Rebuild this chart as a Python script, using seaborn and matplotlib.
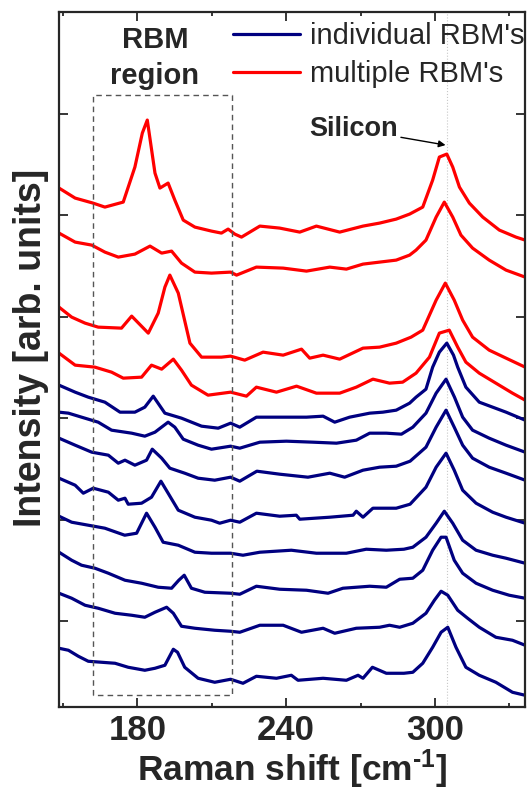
import pandas as pd
import matplotlib.pyplot as plt
import seaborn as sns
import numpy as np

# spectra, top (red) to bottom (blue), arb. units

r1_x = [148.4,154.9,162.1,166.9,174.3,179.0,182.0,184.0,187.1,189.1,192.4,195.1,198.5,203.2,209.9,213.9,216.6,219.3,222.0,229.4,237.4,245.5,252.2,261.6,271.0,277.7,284.4,289.8,295.1,299.1,301.8,304.8,307.2,309.9,313.9,319.3,326.0,332.7,336.4]
r1_y = [5.19,5.09,5.04,5.00,5.05,5.40,5.74,5.87,5.34,5.19,5.24,5.07,4.87,4.80,4.76,4.74,4.78,4.73,4.70,4.81,4.79,4.75,4.81,4.75,4.81,4.84,4.88,4.93,5.00,5.27,5.50,5.53,5.40,5.20,5.04,4.90,4.77,4.70,4.67]

r2_x = [148.4,154.9,161.6,166.9,172.3,179.0,185.1,189.8,193.8,197.8,203.2,209.9,217.6,220.0,228.0,238.8,248.2,257.6,264.3,271.0,277.7,284.4,289.8,292.4,296.4,300.5,303.8,307.2,310.5,315.2,321.9,328.7,336.4]
r2_y = [4.74,4.65,4.62,4.55,4.50,4.53,4.61,4.54,4.56,4.44,4.35,4.34,4.35,4.32,4.40,4.39,4.36,4.40,4.38,4.43,4.45,4.47,4.52,4.57,4.67,4.90,5.05,4.90,4.72,4.59,4.47,4.37,4.30]

r3_x = [148.4,153.5,158.9,164.2,173.6,177.7,184.4,188.4,191.1,193.1,196.5,201.2,205.9,213.9,217.6,223.3,230.7,238.8,246.2,249.5,254.9,261.6,271.0,277.7,284.4,290.4,295.1,300.5,304.2,307.8,311.2,315.2,321.9,328.7,336.4]
r3_y = [4.00,3.90,3.84,3.80,3.79,3.91,3.74,3.94,4.20,4.32,4.14,3.64,3.50,3.50,3.51,3.47,3.55,3.52,3.58,3.49,3.52,3.48,3.59,3.60,3.64,3.70,3.77,4.07,4.24,4.07,3.87,3.70,3.57,3.49,3.40]

r4_x = [148.4,154.9,162.9,169.6,174.3,181.7,185.7,189.8,194.5,197.8,201.8,208.5,217.6,224.0,228.0,236.1,244.2,252.2,261.6,268.3,275.0,281.7,287.0,292.4,297.8,301.8,305.8,309.2,312.5,317.9,324.6,331.3,336.4]
r4_y = [3.54,3.42,3.40,3.35,3.29,3.30,3.42,3.38,3.48,3.37,3.22,3.12,3.15,3.11,3.20,3.15,3.21,3.14,3.14,3.20,3.28,3.24,3.25,3.34,3.50,3.74,3.77,3.60,3.45,3.34,3.24,3.14,3.07]

b1_x = [148.4,154.9,160.2,166.9,173.0,179.0,183.0,186.4,191.1,197.8,205.9,212.6,217.6,221.3,228.0,238.8,248.2,254.9,259.6,265.6,273.7,279.0,284.4,289.8,292.4,296.4,299.1,301.8,304.8,307.5,309.2,312.5,317.9,323.3,328.7,336.4]
b1_y = [3.22,3.15,3.10,3.05,2.95,2.95,3.00,3.11,2.94,2.89,2.81,2.79,2.84,2.80,2.90,2.90,2.90,2.91,2.85,2.90,2.94,2.95,2.97,3.04,3.10,3.18,3.40,3.55,3.64,3.52,3.40,3.20,3.05,3.00,2.95,2.87]

b2_x = [148.4,152.2,157.5,164.2,169.6,177.7,183.0,187.1,192.4,195.1,198.5,204.5,209.9,217.6,221.3,229.4,240.1,250.9,260.3,268.3,273.7,280.4,286.5,291.1,296.4,300.5,304.5,307.9,311.2,315.2,321.9,328.7,336.4]
b2_y = [2.95,2.94,2.90,2.85,2.77,2.74,2.71,2.75,2.85,2.80,2.68,2.62,2.58,2.61,2.59,2.65,2.66,2.65,2.64,2.67,2.74,2.74,2.73,2.80,2.94,3.14,3.28,3.10,2.90,2.77,2.69,2.62,2.55]

b3_x = [148.4,154.9,161.6,168.3,172.3,175.0,179.0,183.7,186.0,189.8,193.1,199.1,204.5,211.2,217.6,221.3,228.2,237.4,248.8,257.6,263.6,271.0,277.7,284.4,290.0,296.4,300.5,304.5,307.8,311.2,315.2,321.9,328.7,336.4]
b3_y = [2.69,2.62,2.55,2.52,2.44,2.47,2.42,2.47,2.58,2.49,2.39,2.34,2.29,2.27,2.30,2.26,2.36,2.33,2.30,2.34,2.30,2.37,2.40,2.41,2.46,2.60,2.80,2.97,2.80,2.62,2.49,2.40,2.34,2.27]

b4_x = [148.4,154.9,158.2,162.2,168.3,172.3,175.0,176.3,181.7,185.7,189.5,192.4,196.5,203.2,209.9,213.2,217.6,221.3,228.0,237.4,244.1,245.5,257.6,267.0,268.3,271.0,275.0,284.4,290.0,296.4,300.5,304.5,307.8,311.2,316.6,323.3,328.7,336.4]
b4_y = [2.29,2.22,2.14,2.19,2.15,2.07,2.09,2.03,2.04,2.10,2.26,2.14,1.97,1.90,1.87,1.84,1.87,1.85,1.94,1.91,1.92,1.88,1.90,1.92,1.96,1.90,1.99,1.99,2.03,2.20,2.40,2.54,2.37,2.17,2.04,1.95,1.90,1.84]

b5_x = [148.4,153.5,160.2,166.9,174.9,179.7,183.7,187.1,190.4,196.5,203.2,209.9,217.6,222.6,229.4,242.1,252.2,264.3,272.3,280.4,287.5,291.1,296.4,300.5,303.8,307.2,311.2,316.6,323.3,328.7,336.4]
b5_y = [1.91,1.85,1.82,1.79,1.72,1.74,1.94,1.80,1.65,1.62,1.55,1.54,1.54,1.52,1.55,1.57,1.54,1.54,1.58,1.57,1.58,1.60,1.70,1.84,1.96,1.84,1.67,1.57,1.52,1.49,1.44]

b6_x = [148.4,153.5,157.5,162.9,168.3,175.0,181.7,188.4,193.8,196.7,198.9,201.8,207.2,217.6,221.3,228.0,237.4,248.2,256.9,262.9,273.7,280.4,285.8,291.1,295.1,299.1,302.5,304.5,307.8,311.2,316.6,323.3,330.0,336.4]
b6_y = [1.55,1.47,1.42,1.39,1.34,1.27,1.24,1.20,1.19,1.27,1.32,1.19,1.15,1.14,1.13,1.21,1.18,1.17,1.14,1.19,1.21,1.20,1.28,1.29,1.37,1.57,1.70,1.70,1.47,1.34,1.24,1.17,1.12,1.09]

b7_x = [148.4,153.5,158.9,164.2,171.0,177.7,183.0,187.1,191.8,194.5,197.8,203.2,211.2,217.6,221.3,229.4,238.8,246.2,254.9,259.6,268.3,277.7,281.7,285.8,291.1,296.4,299.8,302.5,305.2,309.2,313.2,317.9,324.6,331.3,336.4]
b7_y = [1.14,1.09,1.02,0.99,0.94,0.92,0.90,0.95,1.00,0.94,0.81,0.79,0.77,0.76,0.75,0.82,0.82,0.75,0.79,0.74,0.79,0.80,0.82,0.80,0.84,0.94,1.07,1.16,1.12,0.97,0.89,0.80,0.70,0.67,0.62]

b8_x = [148.4,152.2,156.2,160.2,165.6,171.0,176.3,183.0,187.1,191.1,194.5,196.2,199.1,204.5,211.2,217.6,222.6,228.0,236.1,242.1,244.8,254.9,264.3,269.0,271.0,274.8,280.4,287.5,291.1,295.1,299.1,302.5,305.2,308.5,312.5,317.9,324.6,331.3,336.4]
b8_y = [0.59,0.57,0.51,0.46,0.45,0.44,0.40,0.37,0.39,0.42,0.58,0.55,0.40,0.29,0.25,0.28,0.24,0.31,0.29,0.32,0.27,0.29,0.27,0.32,0.29,0.40,0.34,0.34,0.35,0.44,0.60,0.75,0.80,0.60,0.40,0.32,0.25,0.15,0.12]

multi_label = "multiple RBM's"
indiv_label = "individual RBM's"
red_traces = [(r1_x, r1_y), (r2_x, r2_y), (r3_x, r3_y), (r4_x, r4_y)]
blue_traces = [(b1_x, b1_y), (b2_x, b2_y), (b3_x, b3_y), (b4_x, b4_y),
               (b5_x, b5_y), (b6_x, b6_y), (b7_x, b7_y), (b8_x, b8_y)]

rows = []
for i, (xs, ys) in enumerate(red_traces):
    for xv, yv in zip(xs, ys):
        rows.append({'shift': xv, 'intensity': yv, 'kind': multi_label, 'trace': 'r%d' % i})
for i, (xs, ys) in enumerate(blue_traces):
    for xv, yv in zip(xs, ys):
        rows.append({'shift': xv, 'intensity': yv, 'kind': indiv_label, 'trace': 'b%d' % i})
df = pd.DataFrame(rows)

sns.set_style('ticks')
plt.rcParams['font.family'] = ['Liberation Sans', 'DejaVu Sans']
plt.rcParams['mathtext.fontset'] = 'custom'
plt.rcParams['mathtext.rm'] = 'Liberation Sans:bold'
plt.rcParams['mathtext.default'] = 'rm'
plt.rcParams['lines.solid_joinstyle'] = 'round'

fig = plt.figure(figsize=(5.27, 8.01), dpi=100)
ax = fig.add_axes([0.112, 0.117, 0.884, 0.868])

# faint guide at the silicon line
ax.axvline(304.7, color='#c8c8c8', lw=0.8, ls=':', zorder=0)

sns.lineplot(data=df, x='shift', y='intensity', hue='kind', units='trace',
             estimator=None, sort=False, hue_order=[indiv_label, multi_label],
             palette={indiv_label: '#000080', multi_label: '#ff0000'},
             linewidth=2.3, ax=ax)

# RBM region box
ax.plot([162.2, 162.2, 218.0, 218.0, 162.2], [0.12, 6.12, 6.12, 0.12, 0.12],
        ls=(0, (4, 3)), color='#555555', lw=1.0)

ax.text(187.1, 6.49, 'RBM\nregion', ha='center', va='center', fontsize=21,
        fontweight='bold', linespacing=1.35)
ax.annotate('Silicon', xy=(304.3, 5.62), xytext=(267.1, 5.78), ha='center',
            va='center', fontsize=19.5, fontweight='bold',
            arrowprops=dict(arrowstyle='-|>', color='black', lw=1.0,
                            shrinkA=42, shrinkB=0, mutation_scale=10))

ax.set_xlim(148.4, 336.3)
ax.set_ylim(0, 6.95)
ax.set_xticks([180, 240, 300])
ax.set_xticks([150, 210, 270, 330], minor=True)
ax.set_yticks(np.arange(0.86, 6.5, 1.015))
ax.set_yticklabels([])

ax.tick_params(which='both', direction='in', top=True, right=True, width=1.3)
ax.tick_params(which='major', length=6.5, labelsize=25, pad=5)
ax.tick_params(which='minor', length=3)
for lab in ax.get_xticklabels():
    lab.set_fontweight('bold')
for sp in ax.spines.values():
    sp.set_linewidth(1.6)

ax.set_xlabel('Raman shift [cm$^{\u20101}$]', fontsize=25.5, fontweight='bold', labelpad=0)
ax.set_ylabel('Intensity [arb. units]', fontsize=27, fontweight='bold')
ax.yaxis.set_label_coords(-0.021, 0.517)

handles, labels = ax.get_legend_handles_labels()
ax.legend(handles, labels, loc='upper right', bbox_to_anchor=(1.022, 1.0),
          frameon=False, fontsize=21, handlelength=2.3, handletextpad=0.35,
          labelspacing=0.33, borderaxespad=0.1, borderpad=0.25)

plt.savefig('out.png', dpi=100)
plt.close()
